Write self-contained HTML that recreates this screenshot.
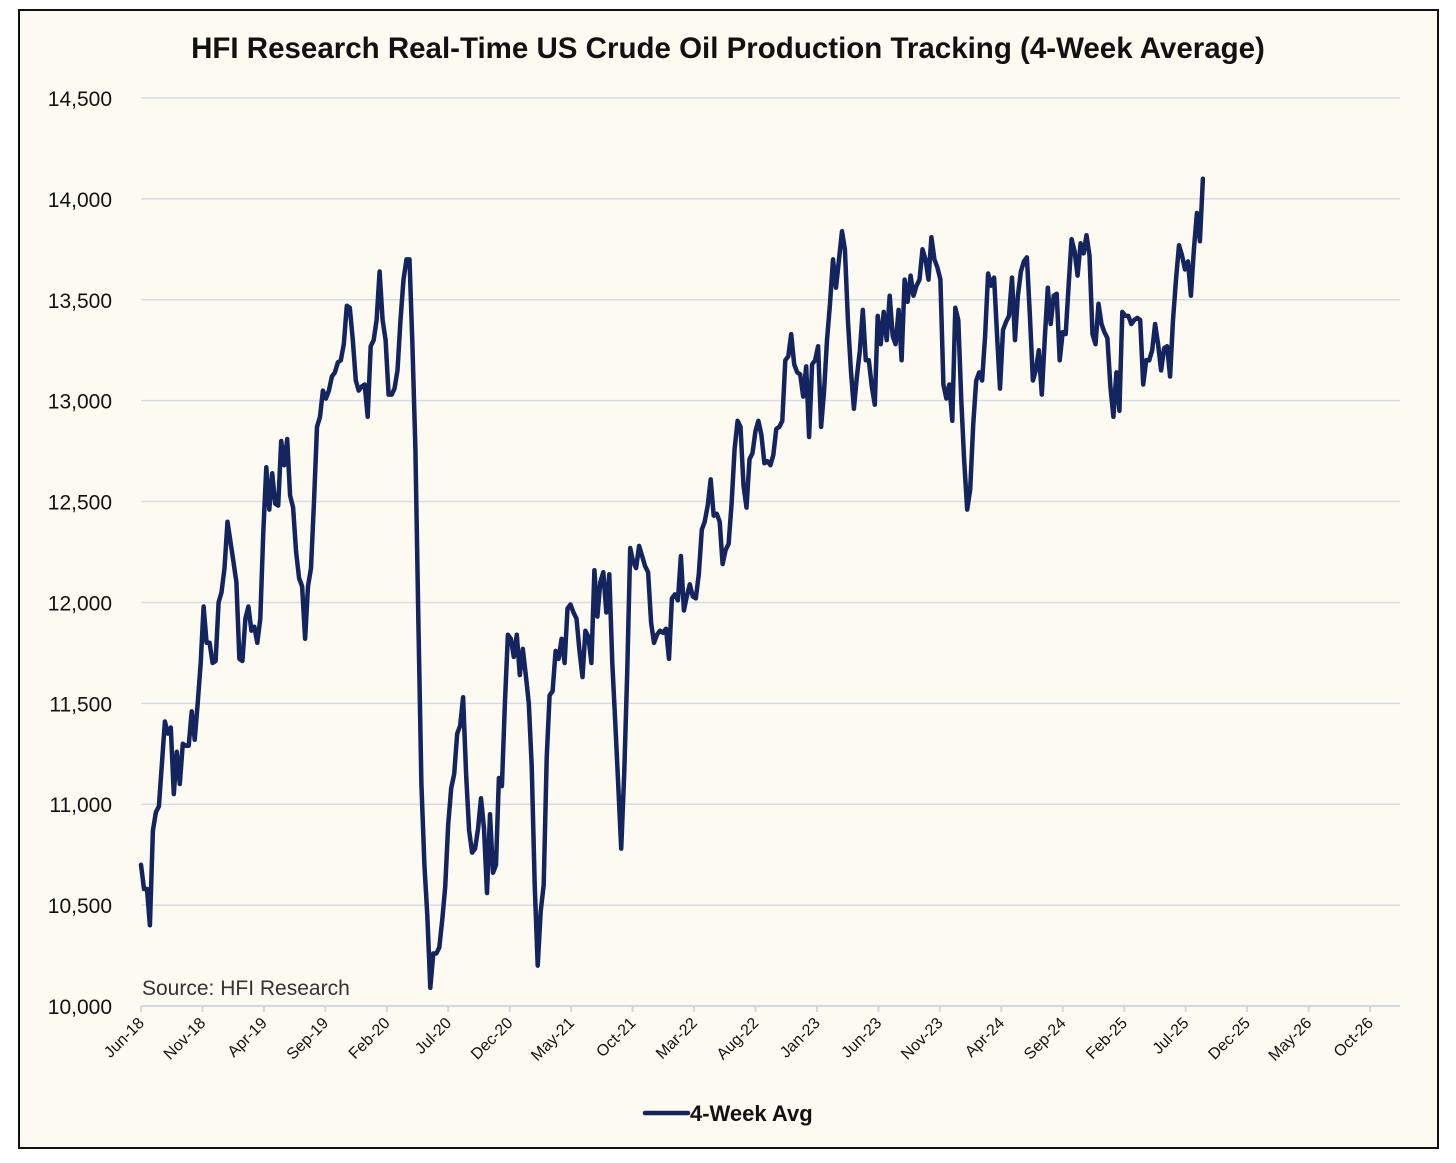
<!DOCTYPE html>
<html><head><meta charset="utf-8"><style>
html,body{margin:0;padding:0;background:#fff;}
body{width:1456px;height:1163px;position:relative;overflow:hidden;font-family:"Liberation Sans",sans-serif;}
#frame{position:absolute;left:18px;top:9px;width:1421px;height:1140px;border:2px solid #111;background:#fdfaf1;box-sizing:border-box;}
svg{position:absolute;left:0;top:0;}
</style></head><body>
<div id="frame"></div>
<svg id="chart" width="1456" height="1163"></svg>
<script>
const yTicks=[10000,10500,11000,11500,12000,12500,13000,13500,14000,14500];
const xTickLabels=["Jun-18","Nov-18","Apr-19","Sep-19","Feb-20","Jul-20","Dec-20","May-21","Oct-21","Mar-22","Aug-22","Jan-23","Jun-23","Nov-23","Apr-24","Sep-24","Feb-25","Jul-25","Dec-25","May-26","Oct-26"];
const xTickMonths=[0,5,10,15,20,25,30,35,40,45,50,55,60,65,70,75,80,85,90,95,100];
const stepMonths=0.2427; // ~weekly sampling interval (months between samples)
const values=[10700,10580,10580,10400,10870,10960,10990,11200,11410,11350,11380,11050,11260,11100,11300,11290,11290,11460,11320,11500,11700,11980,11800,11800,11700,11710,12000,12050,12170,12400,12300,12200,12100,11720,11710,11920,11980,11860,11880,11800,11920,12350,12670,12460,12640,12490,12480,12800,12680,12810,12530,12470,12250,12120,12080,11820,12080,12170,12500,12870,12920,13050,13010,13050,13120,13140,13190,13200,13280,13470,13460,13300,13100,13050,13070,13080,12920,13270,13300,13400,13640,13400,13300,13030,13030,13060,13150,13400,13600,13700,13700,13280,12760,11900,11100,10700,10450,10090,10260,10260,10290,10430,10590,10900,11080,11150,11350,11390,11530,11150,10870,10760,10780,10880,11030,10880,10560,10950,10660,10700,11130,11090,11500,11840,11820,11730,11840,11640,11770,11640,11500,11190,10600,10200,10470,10600,11230,11540,11560,11760,11720,11820,11700,11970,11990,11950,11920,11760,11630,11860,11830,11700,12160,11930,12100,12150,11950,12140,11700,11400,11100,10780,11150,11650,12270,12200,12170,12280,12230,12180,12150,11900,11800,11840,11860,11850,11870,11720,12020,12040,12010,12230,11960,12030,12090,12030,12020,12140,12360,12400,12480,12610,12430,12440,12400,12190,12260,12290,12490,12760,12900,12870,12580,12470,12710,12740,12850,12900,12830,12690,12700,12680,12730,12860,12870,12900,13200,13220,13330,13180,13140,13130,13020,13170,12820,13180,13200,13270,12870,13050,13300,13480,13700,13560,13700,13840,13750,13400,13150,12960,13120,13250,13450,13200,13200,13070,12980,13420,13280,13440,13300,13520,13320,13280,13450,13200,13600,13490,13620,13520,13570,13600,13750,13700,13600,13810,13700,13660,13600,13080,13010,13080,12900,13460,13400,13000,12700,12460,12560,12880,13100,13140,13100,13320,13630,13570,13610,13320,13060,13350,13390,13420,13610,13300,13520,13640,13690,13710,13420,13100,13150,13250,13030,13310,13560,13380,13520,13530,13200,13340,13330,13570,13800,13740,13620,13780,13730,13820,13720,13330,13280,13480,13380,13340,13310,13070,12920,13140,12950,13440,13420,13420,13380,13400,13410,13400,13080,13200,13200,13250,13380,13280,13150,13260,13270,13120,13400,13600,13770,13720,13650,13690,13520,13750,13930,13790,14100];

const NS="http://www.w3.org/2000/svg";
const svg=document.getElementById('chart');
const X0=141,PXM=12.29,Y0=1006,PXV=908/4500;
function xs(m){return X0+m*PXM;}
function ys(v){return Y0-(v-10000)*PXV;}
function mk(tag,attrs,parent){const e=document.createElementNS(NS,tag);for(const k in attrs)e.setAttribute(k,attrs[k]);(parent||svg).appendChild(e);return e;}

const t=mk('text',{x:728,y:58,'text-anchor':'middle','font-size':'29.5','font-weight':'bold',fill:'#111'});


t.textContent='HFI Research Real-Time US Crude Oil Production Tracking (4-Week Average)';

yTicks.forEach(v=>{
  if(v>10000){const g=mk('line',{x1:X0,x2:1400,y1:ys(v),y2:ys(v),stroke:'#d6dde6','stroke-width':1.5});
  
  }
  const l=mk('text',{x:112,y:ys(v)+8,'text-anchor':'end','font-size':'21',fill:'#111'});
  
  
  l.textContent=v.toLocaleString('en-US');
});
const ax=mk('line',{x1:X0,x2:1400,y1:Y0,y2:Y0,stroke:'#d0d8e2','stroke-width':2});


xTickMonths.forEach((m,i)=>{
  const x=xs(m);
  const tk=mk('line',{x1:x,x2:x,y1:Y0,y2:Y0+6,stroke:'#d0d8e2','stroke-width':2});
  
  
  const l=mk('text',{x:x+4,y:Y0+18,'text-anchor':'end','font-size':'16',fill:'#111',transform:`rotate(-45 ${x+4} ${Y0+18})`});
  
  
  l.textContent=xTickLabels[i];
});
const s=mk('text',{x:142,y:995,'font-size':'21',fill:'#333'});


s.textContent='Source: HFI Research';

const d=values.map((v,i)=>(i?'L':'M')+xs(i*stepMonths).toFixed(1)+' '+ys(v).toFixed(1)).join(' ');
const p=mk('path',{d:d,fill:'none',stroke:'#13245e','stroke-width':4.5,'stroke-linejoin':'round','stroke-linecap':'round'});



const lg=mk('g',{});


mk('line',{x1:645,x2:688,y1:1113,y2:1113,stroke:'#13245e','stroke-width':4.5,'stroke-linecap':'round'},lg);
const lt=mk('text',{x:690,y:1121,'font-size':'22','font-weight':'bold',fill:'#111'},lg);
lt.textContent='4-Week Avg';
</script>
</body></html>
